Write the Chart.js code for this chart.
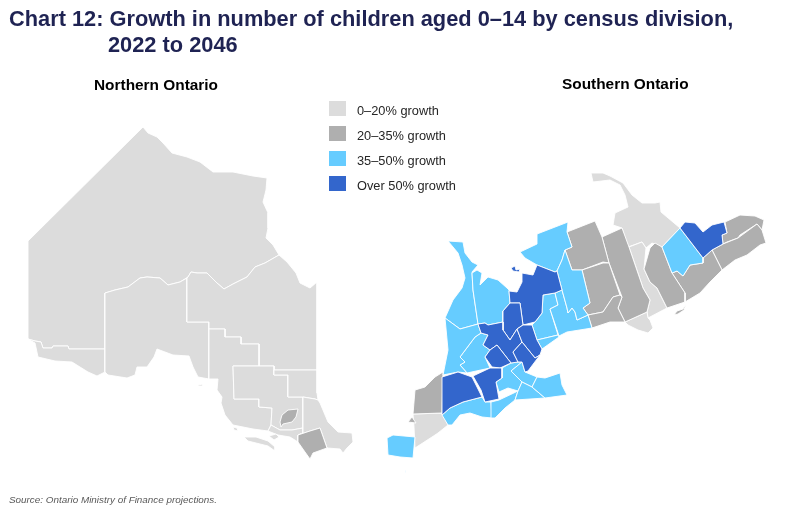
<!DOCTYPE html>
<html>
<head>
<meta charset="utf-8">
<script src="https://cdn.jsdelivr.net/npm/chart.js@4/dist/chart.umd.min.js"></script>
<style>
  body { margin: 0; background: #fff; font-family: "Liberation Sans", Arial, sans-serif; }
  #wrap { position: relative; width: 790px; height: 514px; overflow: hidden; }
  canvas { position: absolute; left: 0; top: 0; }
  .title { position: absolute; left: 9px; top: 6px; color: #1f2353; font-weight: bold; font-size: 21.8px; line-height: 26px; white-space: nowrap; }
  .title span { display: block; padding-left: 99px; }
  .sub { position: absolute; color: #000; font-weight: bold; font-size: 15.4px; white-space: nowrap; }
  .key { position: absolute; left: 329px; width: 17px; height: 15px; }
  .keytxt { position: absolute; left: 357px; font-size: 12.8px; color: #262626; white-space: nowrap; }
  .source { position: absolute; left: 9px; top: 494px; font-size: 9.9px; font-style: italic; color: #595959; }
</style>
</head>
<body>
<div id="wrap">
  <canvas id="map" width="790" height="514"></canvas>
  <div class="title">Chart 12: Growth in number of children aged 0–14 by census division,<span>2022 to 2046</span></div>
  <div class="sub" style="left:94px;top:76px">Northern Ontario</div>
  <div class="sub" style="left:562px;top:75px">Southern Ontario</div>
  <div id="legend"></div>
  <div class="source">Source: Ontario Ministry of Finance projections.</div>
</div>
<script>
const growthBands = ['0–20% growth', '20–35% growth', '35–50% growth', 'Over 50% growth'];
const bandColors = ['#dcdcdc', '#afafaf', '#66ccff', '#3366cc'];

// division outlines, in map units
const kenora = [[28,241],[143,127],[148,133],[157,137],[163,143],[172,153],[187,157],[200,162],[213,172],[233,172],[253,176],[267,178],[266,190],[263,202],[268,213],[268,228],[266,238],[273,245],[279,255],[265,263],[255,267],[247,277],[233,284],[224,289],[217,283],[207,273],[197,273],[191,272],[188,277],[180,282],[168,285],[160,278],[147,277],[140,278],[128,287],[115,290],[105,293],[105,349],[69,349],[68,346],[53,346],[52,348],[43,348],[41,342],[35,341],[28,339]];
const rainyRiver = [[28,339],[35,341],[41,342],[43,348],[52,348],[53,346],[68,346],[69,349],[105,349],[105,372],[97,376],[88,372],[80,367],[72,362],[55,361],[38,357],[35,343]];
const thunderBay = [[105,293],[115,290],[128,287],[140,278],[147,277],[160,278],[168,285],[180,282],[187,278],[187,322],[209,322],[209,379],[198,377],[193,367],[189,356],[173,355],[157,349],[154,357],[147,367],[137,367],[135,375],[127,378],[108,375],[105,372]];
const cochrane = [[187,278],[188,277],[191,272],[197,273],[207,273],[217,283],[224,289],[233,284],[247,277],[255,267],[265,263],[279,255],[287,262],[296,273],[300,283],[310,288],[317,282],[317,370],[274,370],[274,366],[259,366],[259,344],[241,344],[241,337],[225,337],[225,329],[209,329],[209,322],[187,322]];
const algoma = [[209,329],[225,329],[225,337],[241,337],[241,344],[259,344],[259,366],[233,366],[234,399],[259,399],[259,407],[272,408],[271,425],[268,431],[253,429],[233,425],[225,415],[221,403],[222,397],[217,390],[218,379],[209,379]];
const sudburyDistrict = [[233,366],[274,366],[274,375],[288,375],[288,397],[303,397],[303,428],[292,430],[280,430],[271,425],[272,408],[259,407],[259,399],[234,399]];
const sudburyShore = [[268,431],[271,425],[280,430],[292,430],[303,428],[303,433],[298,435],[298,442],[290,437],[278,435]];
const timiskaming = [[274,370],[317,370],[317,393],[318,400],[315,399],[303,397],[288,397],[288,375],[274,375]];
const nipissing = [[303,397],[315,399],[318,400],[320,403],[328,422],[338,432],[352,433],[353,442],[347,448],[343,453],[340,449],[327,448],[320,428],[310,431],[298,435],[303,433],[303,428]];
const manitoulin = [[244,437],[256,437],[268,441],[275,447],[275,451],[268,446],[256,443],[248,441]];
const cockburn = [[269,436],[276,434],[279,437],[274,440]];
const michipicoten = [[198,385],[203,384],[203,386],[198,386]];
const stJoseph = [[233,427],[237,428],[238,431],[234,430]];
const greaterSudbury = [[280,422],[282,415],[288,410],[298,409],[296,417],[292,422],[283,424],[281,427]];
const parrySound = [[298,435],[310,431],[320,428],[327,448],[313,453],[310,459],[305,452],[298,442]];

const haliburton = [[591,173],[603,173],[610,176],[623,183],[632,195],[642,203],[655,203],[660,202],[661,212],[680,228],[662,247],[652,243],[646,248],[642,242],[628,247],[622,228],[613,225],[615,213],[628,207],[625,195],[620,185],[610,180],[593,182]];
const ottawa = [[680,228],[685,222],[695,223],[703,232],[712,225],[724,222],[727,233],[722,235],[723,244],[712,250],[703,258]];
const renfrew = [[680,228],[703,258],[703,263],[690,265],[683,276],[677,271],[672,273],[662,247]];
const prescott = [[725,222],[740,215],[755,216],[764,220],[762,230],[757,224],[740,235],[738,238],[727,242],[723,244],[722,235],[727,233]];
const stormont = [[757,224],[762,230],[766,243],[760,245],[747,255],[735,260],[722,270],[712,250],[723,244],[738,238]];
const leeds = [[712,250],[722,270],[710,282],[700,293],[685,302],[685,293],[672,273],[677,271],[683,276],[690,265],[703,263],[703,258]];
const hastings = [[646,262],[650,248],[655,243],[662,247],[672,273],[685,293],[685,302],[667,308],[657,288],[650,282],[644,269]];
const peterborough = [[629,247],[642,242],[646,248],[644,269],[650,282],[657,288],[667,308],[648,318],[647,312],[650,300],[643,288]];
const kawartha = [[602,237],[622,228],[629,247],[643,288],[650,300],[647,312],[625,322],[618,308],[622,297],[609,263]];
const greyEast = [[567,232],[595,221],[602,237],[609,263],[603,262],[582,270],[572,270],[565,250],[572,247]];
const durhamNorth = [[582,270],[603,263],[609,263],[620,295],[613,297],[603,312],[588,315],[583,308],[590,303]];
const durhamSouth = [[588,315],[603,312],[613,297],[620,295],[622,297],[618,308],[625,322],[610,322],[592,328]];
const princeEdward = [[625,322],[647,312],[648,318],[650,320],[653,328],[648,333],[638,330],[628,325]];
const amherst = [[674,315],[677,311],[683,309],[686,304],[684,310],[678,314]];
const bruce = [[448,241],[463,242],[465,253],[472,262],[478,265],[472,272],[473,290],[478,324],[460,329],[445,318],[453,300],[462,288],[465,278],[462,265],[458,253]];
const greyWest = [[472,273],[477,270],[482,273],[480,285],[488,277],[498,280],[507,288],[509,290],[510,303],[503,311],[503,322],[488,325],[485,323],[478,324],[473,290]];
const simcoe = [[509,291],[517,292],[522,282],[522,273],[533,275],[537,265],[555,272],[557,271],[562,290],[555,293],[543,295],[542,313],[535,322],[523,325],[520,303],[510,303]];
const simcoeIsle = [[511,268],[515,266],[516,270],[520,269],[519,272],[513,271]];
const dufferin = [[503,311],[510,303],[520,303],[523,325],[517,329],[510,340],[503,330]];
const wellington = [[478,324],[485,323],[488,325],[503,322],[503,330],[510,340],[517,329],[522,342],[513,352],[518,362],[511,363],[497,345],[490,350],[483,345],[488,335],[481,333]];
const york = [[517,329],[523,325],[532,325],[537,340],[542,349],[540,355],[535,358],[522,342]];
const peel = [[513,352],[522,342],[535,358],[540,355],[528,371],[525,372],[522,362],[518,362]];
const waterloo = [[490,350],[497,345],[511,363],[500,368],[492,367],[485,357]];
const perth = [[475,337],[481,333],[488,335],[483,345],[490,350],[485,357],[490,368],[467,373],[460,365],[465,362],[460,357]];
const huron = [[445,318],[460,329],[478,324],[481,333],[475,337],[460,357],[465,362],[460,365],[467,373],[458,372],[443,375],[448,350]];
const middlesex = [[442,377],[458,372],[472,377],[482,397],[463,402],[450,408],[442,415]];
const oxford = [[473,376],[490,368],[502,368],[502,378],[496,382],[499,399],[485,402],[481,390]];
const lambton = [[443,372],[442,413],[413,414],[415,390],[425,387],[435,377]];
const walpole = [[408,422],[412,417],[416,423]];
const chatham = [[413,414],[442,413],[448,425],[438,433],[432,437],[415,448],[414,427]];
const essex = [[387,438],[393,435],[415,437],[413,458],[400,457],[388,455]];
const pelee = [[405,470],[406,470],[406,473],[405,473]];
const elgin = [[442,415],[450,408],[463,402],[482,397],[485,402],[491,402],[492,418],[482,417],[470,413],[460,415],[452,425],[448,425]];
const norfolk = [[491,402],[499,400],[518,391],[515,400],[505,408],[495,418],[491,418]];
const brant = [[496,382],[502,378],[502,368],[511,363],[518,362],[522,362],[511,371],[522,382],[518,391],[508,388],[499,392]];
const hamilton = [[511,371],[522,362],[525,372],[537,377],[532,387],[522,382]];
const haldimand = [[522,382],[532,387],[545,398],[515,400],[518,391]];
const niagara = [[532,387],[537,377],[545,378],[560,373],[562,385],[567,395],[545,398]];
const blueBay = [[520,252],[537,244],[537,234],[568,222],[567,232],[572,247],[565,250],[562,260],[557,271],[555,272],[537,265],[525,258]];
const halton = [[532,325],[535,322],[542,313],[543,295],[555,293],[558,305],[550,309],[558,335],[537,340]];
const peelShore = [[537,340],[558,335],[559,337],[542,349]];
const durhamWest = [[555,293],[562,290],[567,308],[568,313],[572,308],[575,312],[577,320],[588,315],[592,328],[567,332],[559,336],[550,309],[558,305]];
const muskoka = [[557,271],[562,260],[565,250],[572,270],[582,270],[590,303],[583,308],[588,315],[577,320],[575,312],[572,308],[568,313],[567,308],[562,290]];

const lowGrowth = [kenora, rainyRiver, thunderBay, cochrane, algoma, sudburyDistrict, sudburyShore, timiskaming, nipissing, manitoulin, cockburn, michipicoten, stJoseph, haliburton, peterborough, princeEdward, chatham];
const midGrowth = [greaterSudbury, parrySound, prescott, stormont, leeds, hastings, kawartha, greyEast, durhamNorth, durhamSouth, amherst, lambton, walpole];
const highGrowth = [renfrew, bruce, greyWest, perth, huron, essex, pelee, elgin, norfolk, brant, hamilton, haldimand, niagara, blueBay, halton, peelShore, durhamWest, muskoka];
const topGrowth = [ottawa, simcoe, simcoeIsle, dufferin, wellington, york, peel, waterloo, middlesex, oxford];
const bandDivisions = [lowGrowth, midGrowth, highGrowth, topGrowth];

const datasets = [];
bandDivisions.forEach((divisions, band) => {
  divisions.forEach((outline) => {
    datasets.push({
      data: [...outline, outline[0]].map(([x, y]) => ({ x, y })),
      showLine: true,
      fill: 'shape',
      backgroundColor: bandColors[band],
      borderColor: '#ffffff',
      borderWidth: 0.9,
      pointRadius: 0,
      tension: 0,
      // chart.js paints the lowest order last, so later divisions sit on top
      order: -datasets.length
    });
  });
});

new Chart(document.getElementById('map'), {
  type: 'scatter',
  data: { datasets },
  options: {
    responsive: false,
    animation: false,
    layout: { padding: 0 },
    plugins: { legend: { display: false }, tooltip: { enabled: false } },
    scales: {
      x: { type: 'linear', min: 0, max: 790, display: false },
      y: { type: 'linear', min: 0, max: 514, reverse: true, display: false }
    }
  }
});

const legendEl = document.getElementById('legend');
legendEl.innerHTML = growthBands.map((label, i) => `
  <div class="key" style="top:${101 + i * 25}px;background:${bandColors[i]}"></div>
  <div class="keytxt" style="top:${103 + i * 25}px">${label}</div>
`).join('');
</script>
</body>
</html>
